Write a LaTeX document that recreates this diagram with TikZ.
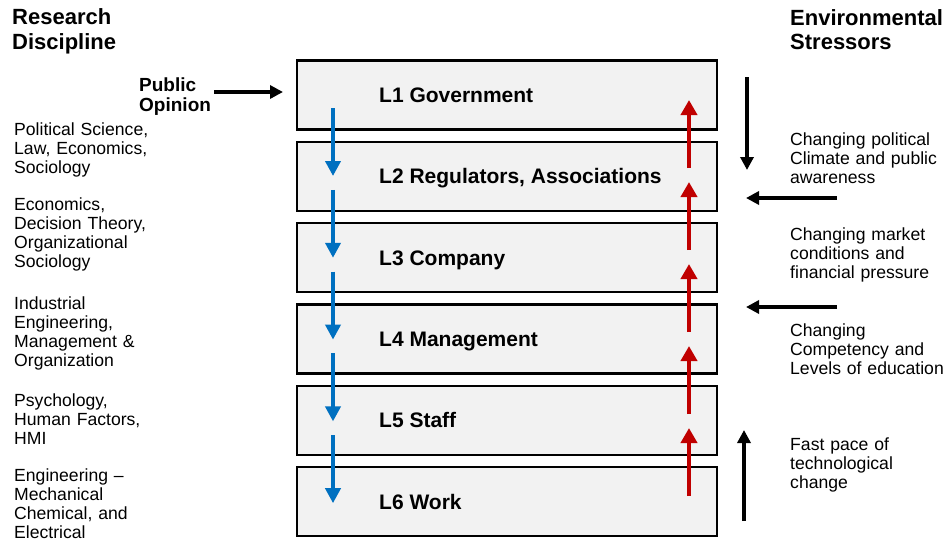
\documentclass[tikz,border=0pt]{standalone}
\usepackage{fontspec}
\setmainfont{Liberation Sans}
\usetikzlibrary{arrows.meta}
\definecolor{boxfill}{HTML}{F2F2F2}
\definecolor{downblue}{HTML}{0070C0}
\definecolor{upred}{HTML}{C00000}
\begin{document}
\begin{tikzpicture}[x=1pt,y=-1pt,
  level/.style={draw=black, line width=2.4pt, fill=boxfill, rectangle,
    minimum width=420pt, minimum height=69pt, inner sep=0pt},
  levellabel/.style={anchor=base west, inner sep=0pt,
    font=\fontsize{21}{24}\selectfont\bfseries},
  heading/.style={anchor=base west, inner sep=0pt, text width=220pt, align=left,
    font=\fontsize{22}{24.5}\selectfont\bfseries},
  field/.style={anchor=base west, inner sep=0pt, text width=200pt, align=left,
    font=\fontsize{17.6}{19}\selectfont},
  downflow/.style={draw=downblue, line width=4.5pt,
    -{Triangle[length=15pt,width=15pt]}},
  upflow/.style={draw=upred, line width=4.5pt,
    -{Triangle[length=15pt,width=16pt]}},
  stress/.style={draw=black, line width=4pt,
    -{Triangle[length=13pt,width=13pt]}}
]
\useasboundingbox (0,0) rectangle (950,541);

% the six levels of the socio-technical system
\foreach \i/\txt in {1/{L1 Government}, 2/{L2 Regulators, Associations},
    3/{L3 Company}, 4/{L4 Management}, 5/{L5 Staff}, 6/{L6 Work}} {
  \pgfmathsetmacro{\yc}{95+81.3*(\i-1)}
  \node[level] (L\i) at (507,\yc) {};
  \node[levellabel] (T\i) at (379,\yc+7.5) {\txt};
}

% downward (blue) and upward (red) flows between levels
\foreach \i in {0,...,4} {
  \coordinate (bs\i) at (333,108+81.8*\i);
  \coordinate (be\i) at (333,176+81.8*\i);
  \draw[downflow] (bs\i) -- (be\i);
  \coordinate (rs\i) at (689,168+82*\i);
  \coordinate (re\i) at (689,100+82*\i);
  \draw[upflow] (rs\i) -- (re\i);
}

% column headings
\node[heading] (rd) at (12,24.5) {Research\\Discipline};
\node[heading] (es) at (790,25) {Environmental\\Stressors};

% public opinion input
\node[anchor=base west, inner sep=0pt, text width=90pt, align=left,
  font=\fontsize{19}{20.5}\selectfont\bfseries] (po) at (139,91) {Public\\Opinion};
\coordinate (poS) at (214,92);
\coordinate (poE) at (283,92);
\draw[stress] (poS) -- (poE);

% research disciplines
\node[field] (d1) at (14,135) {Political Science,\\Law, Economics,\\Sociology};
\node[field] (d2) at (14,210) {Economics,\\Decision Theory,\\Organizational\\Sociology};
\node[field] (d3) at (14,309.3) {Industrial\\Engineering,\\Management \&\\Organization};
\node[field] (d4) at (14,406.7) {Psychology,\\Human Factors,\\HMI};
\node[field] (d5) at (14,481.7) {Engineering --\\Mechanical\\Chemical, and\\Electrical};

% environmental stressors
\node[field] (s1) at (790,145) {Changing political\\Climate and public\\awareness};
\node[field] (s2) at (790,240.7) {Changing market\\conditions and\\financial pressure};
\node[field] (s3) at (790,336.7) {Changing\\Competency and\\Levels of education};
\node[field] (s4) at (790,450) {Fast pace of\\technological\\change};

\coordinate (a1s) at (747,77);  \coordinate (a1e) at (747,170);
\coordinate (a2s) at (837,198); \coordinate (a2e) at (746,198);
\coordinate (a3s) at (837,307); \coordinate (a3e) at (746,307);
\coordinate (a4s) at (744,521); \coordinate (a4e) at (744,430);
\draw[stress] (a1s) -- (a1e);
\draw[stress] (a2s) -- (a2e);
\draw[stress] (a3s) -- (a3e);
\draw[stress] (a4s) -- (a4e);
\end{tikzpicture}
\end{document}
